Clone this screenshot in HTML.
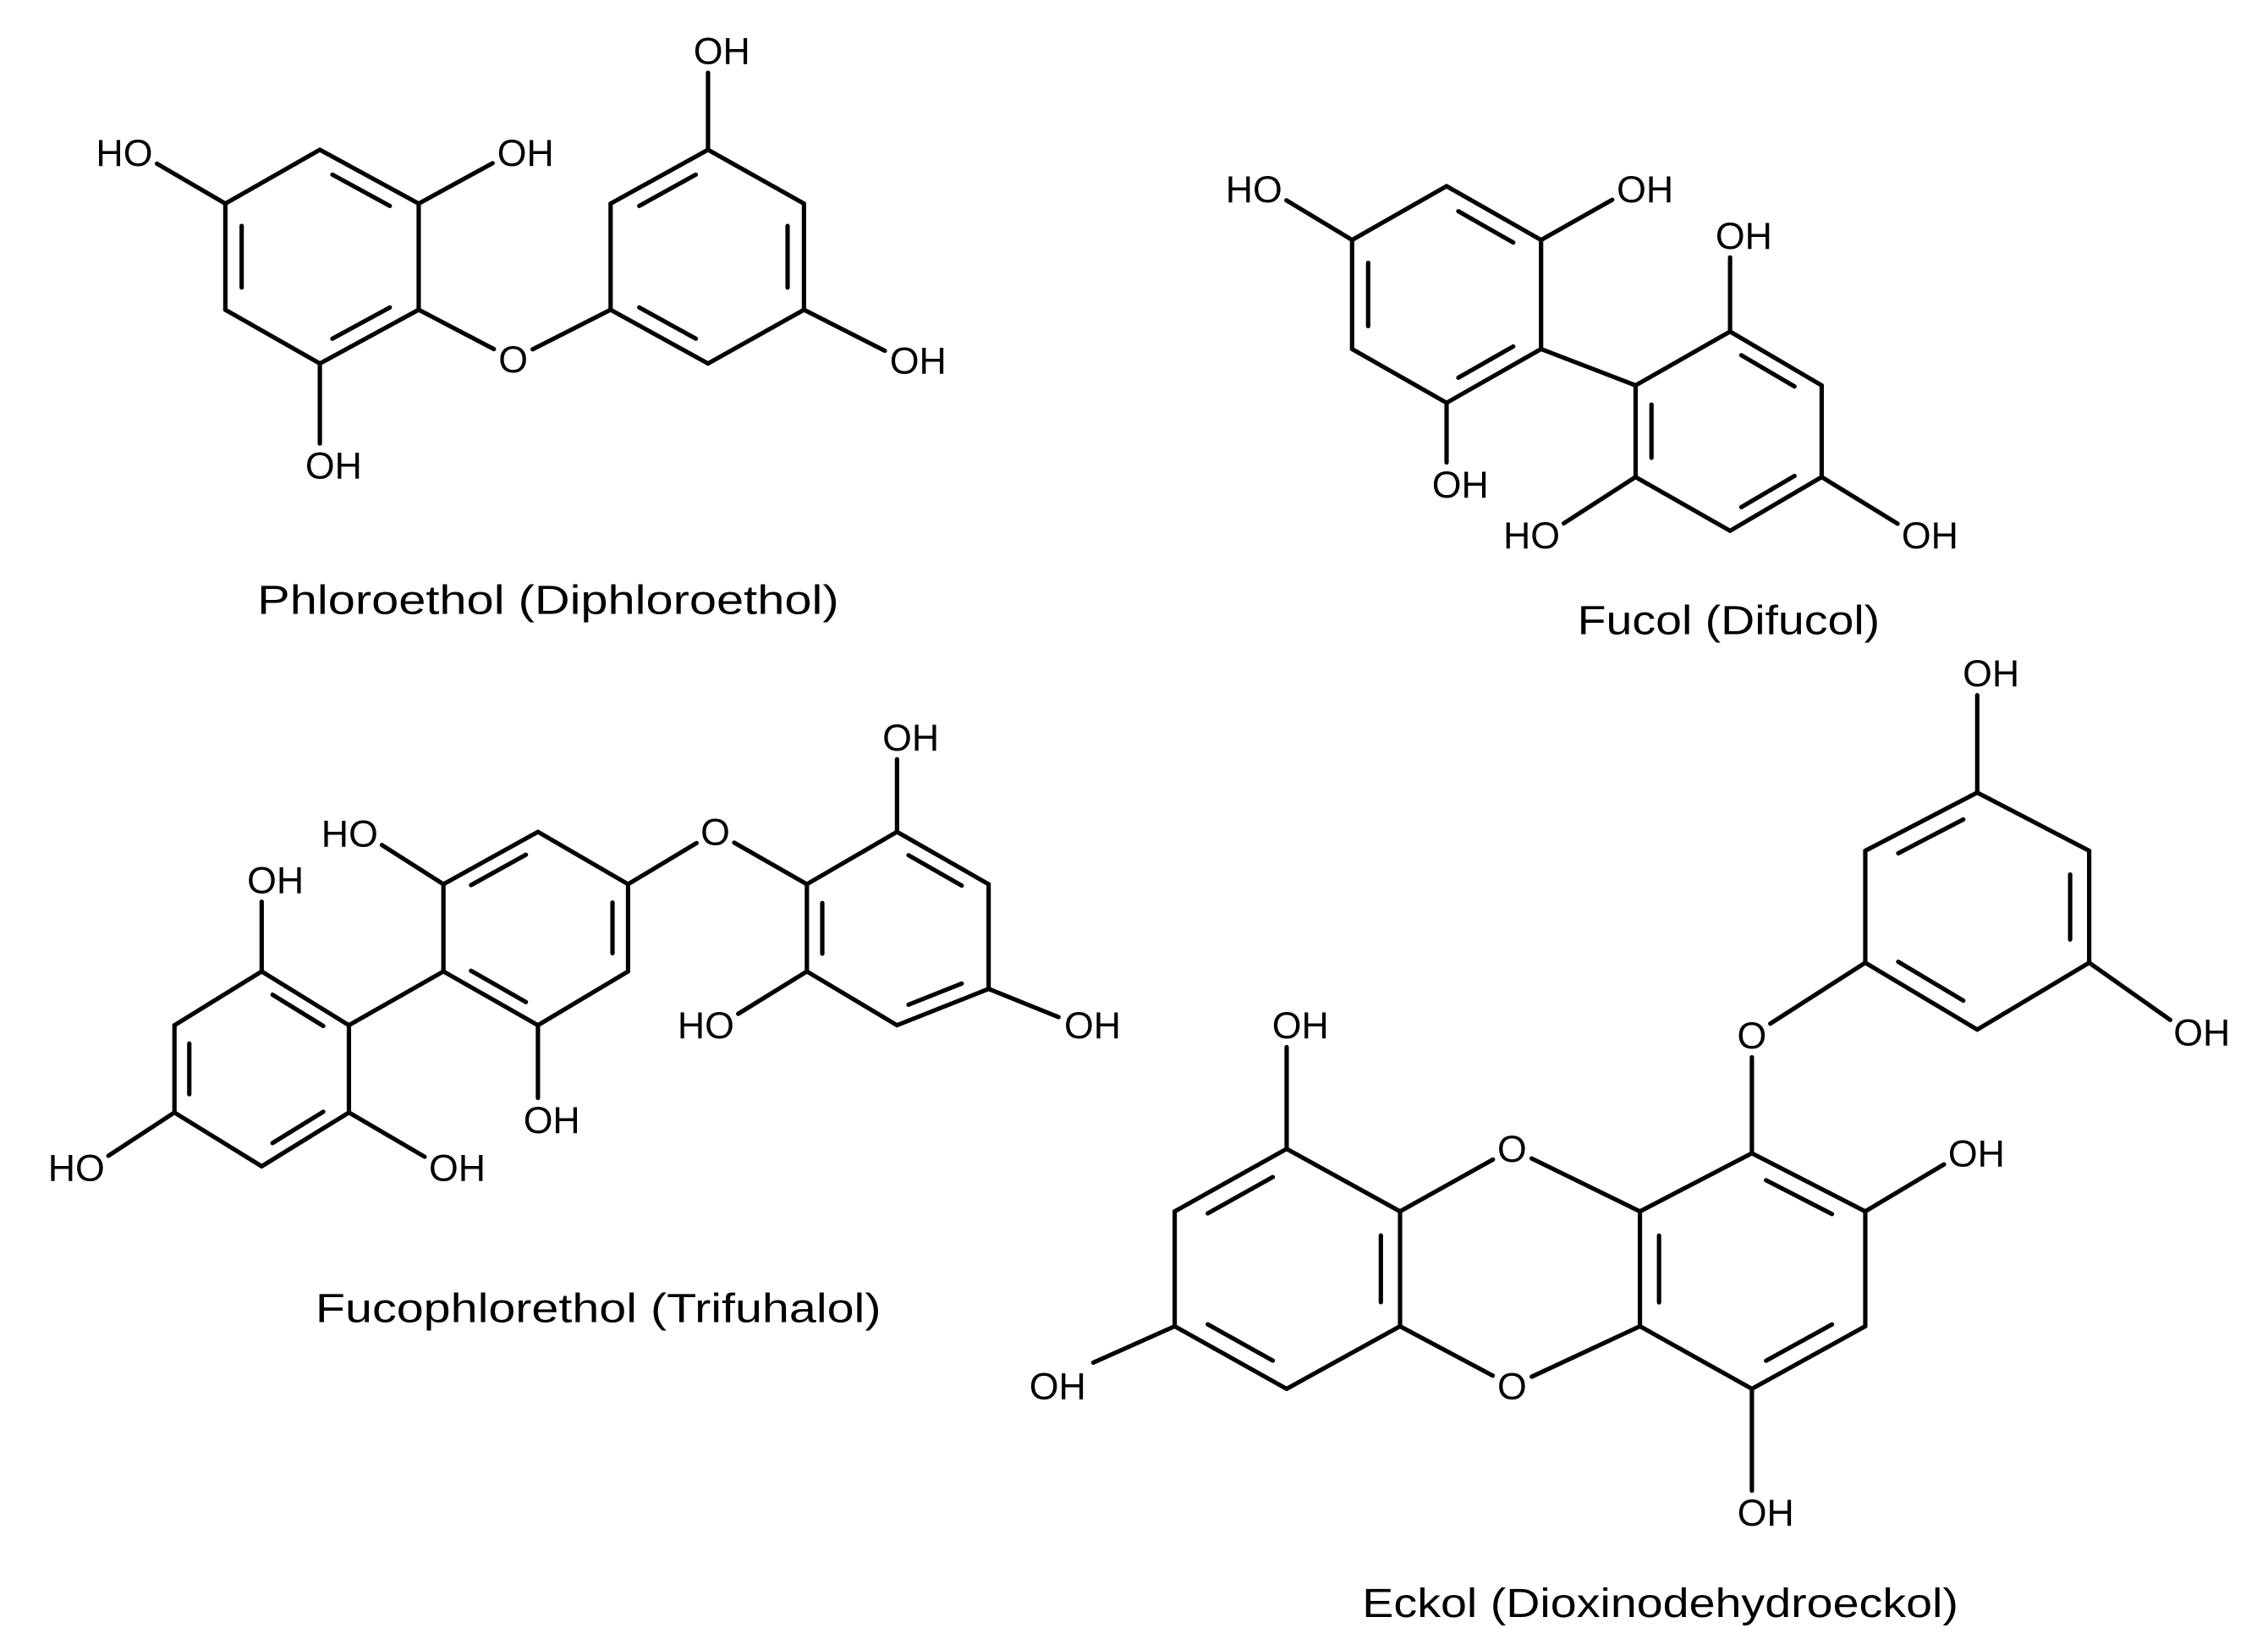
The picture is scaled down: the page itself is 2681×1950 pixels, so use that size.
<!DOCTYPE html>
<html><head><meta charset="utf-8"><style>
html,body{margin:0;padding:0;background:#fff;}
svg{display:block;}
</style></head><body>
<svg id="s" width="2681" height="1950" viewBox="0 0 1560 1134.6" preserveAspectRatio="none" xmlns="http://www.w3.org/2000/svg">
<rect width="1560" height="1134.6" fill="#fff"/>
<g id="b" stroke="#000" stroke-width="3" stroke-linecap="round" fill="none"></g>
<g id="t" font-family="Liberation Sans, sans-serif" font-size="26" fill="#000"></g>
<g font-family="Liberation Sans, sans-serif" font-size="28" fill="#000">
<text x="177" y="422" textLength="400" lengthAdjust="spacingAndGlyphs">Phloroethol (Diphloroethol)</text>
<text x="1085" y="436" textLength="208" lengthAdjust="spacingAndGlyphs">Fucol (Difucol)</text>
<text x="217" y="909" textLength="389" lengthAdjust="spacingAndGlyphs">Fucophlorethol (Trifuhalol)</text>
<text x="937" y="1112" textLength="410" lengthAdjust="spacingAndGlyphs">Eckol (Dioxinodehydroeckol)</text>
<text x="708" y="962" font-size="26">OH</text>
</g>
</svg>
<script>
var NS="http://www.w3.org/2000/svg",B=document.getElementById('b'),T=document.getElementById('t');
function L(a,b){var l=document.createElementNS(NS,'line');l.setAttribute('x1',a[0]);l.setAttribute('y1',a[1]);l.setAttribute('x2',b[0]);l.setAttribute('y2',b[1]);B.appendChild(l);}
function LS(a,o,d){var dx=o[0]-a[0],dy=o[1]-a[1],n=Math.sqrt(dx*dx+dy*dy);L(a,[o[0]-dx/n*d,o[1]-dy/n*d]);}
function ring(v,dbl){var cx=0,cy=0;v.forEach(function(p){cx+=p[0];cy+=p[1];});cx/=6;cy/=6;
for(var i=0;i<6;i++){L(v[i],v[(i+1)%6]);}
dbl.forEach(function(i){var a=v[i],b=v[(i+1)%6];var f=0.17,s=0.15;
var a2=[a[0]+(cx-a[0])*f,a[1]+(cy-a[1])*f],b2=[b[0]+(cx-b[0])*f,b[1]+(cy-b[1])*f];
var A=[a2[0]+(b2[0]-a2[0])*s,a2[1]+(b2[1]-a2[1])*s],Bp=[b2[0]+(a2[0]-b2[0])*s,b2[1]+(a2[1]-b2[1])*s];L(A,Bp);});}
function lab(o,type){var t=document.createElementNS(NS,'text');var x=o[0],y=o[1]+9;
if(type=='OH'){t.setAttribute('x',x-10);t.textContent='OH';}
else if(type=='HO'){t.setAttribute('x',x+10);t.setAttribute('text-anchor','end');t.textContent='HO';}
else{t.setAttribute('x',x);t.setAttribute('text-anchor','middle');t.textContent='O';}
t.setAttribute('y',y);T.appendChild(t);}
function sub(v,o,type){LS(v,o,15);lab(o,type);}
function ob(o,v){LS(v,o,15);}
// M1
var r1=[[220,103],[288,140],[288,213],[220,250],[155,213],[155,140]];ring(r1,[0,2,4]);
var r2=[[487,103],[553,140],[553,213],[487,250],[420,213],[420,140]];ring(r2,[1,3,5]);
sub(r1[5],[95,105],'HO');sub(r1[1],[352,105],'OH');sub(r1[3],[220,320],'OH');
sub(r1[2],[353,247],'O');ob([353,247],r2[4]);sub(r2[0],[487,35],'OH');sub(r2[2],[622,248],'OH');
// M2
var r3=[[995,128],[1060,165],[1060,240],[995,277],[930,240],[930,165]];ring(r3,[0,2,4]);
var r4=[[1190,228],[1253,265],[1253,328],[1190,365],[1125,328],[1125,265]];ring(r4,[0,2,4]);
L(r3[2],r4[5]);sub(r3[5],[872,130],'HO');sub(r3[1],[1122,130],'OH');sub(r3[3],[995,333],'OH');
sub(r4[0],[1190,162],'OH');sub(r4[4],[1063,368],'HO');sub(r4[2],[1318,368],'OH');
// M3
var r5=[[370,572],[432,608],[432,668],[370,705],[305,668],[305,608]];ring(r5,[1,3,5]);
var r6=[[617,572],[680,608],[680,680],[617,705],[555,668],[555,608]];ring(r6,[0,2,4]);
var r7=[[180,668],[240,705],[240,765],[180,802],[120,765],[120,705]];ring(r7,[0,2,4]);
L(r5[4],r7[1]);sub(r5[5],[250,573],'HO');sub(r5[3],[370,770],'OH');
sub(r5[1],[492,572],'O');ob([492,572],r6[5]);sub(r6[0],[617,507],'OH');sub(r6[2],[742,705],'OH');sub(r6[4],[495,705],'HO');
sub(r7[0],[180,605],'OH');sub(r7[2],[305,803],'OH');sub(r7[4],[62,803],'HO');
// M4
var r8=[[1360,545],[1437,585],[1437,662],[1360,708],[1283,662],[1283,585]];ring(r8,[1,3,5]);
var r9=[[885,790],[963,833],[963,912],[885,955],[808,912],[808,833]];ring(r9,[1,3,5]);
var r10=[[1205,793],[1283,833],[1283,912],[1205,955],[1128,912],[1128,833]];ring(r10,[0,2,4]);
sub(r8[0],[1360,463],'OH');sub(r8[2],[1505,710],'OH');sub(r8[4],[1205,712],'O');ob([1205,712],r10[0]);
sub(r10[1],[1350,793],'OH');sub(r10[3],[1205,1040],'OH');
sub(r9[0],[885,705],'OH');L(r9[4],[752,937]);
sub(r9[1],[1040,790],'O');ob([1040,790],r10[5]);sub(r9[2],[1040,953],'O');ob([1040,953],r10[4]);
</script>
</body></html>
